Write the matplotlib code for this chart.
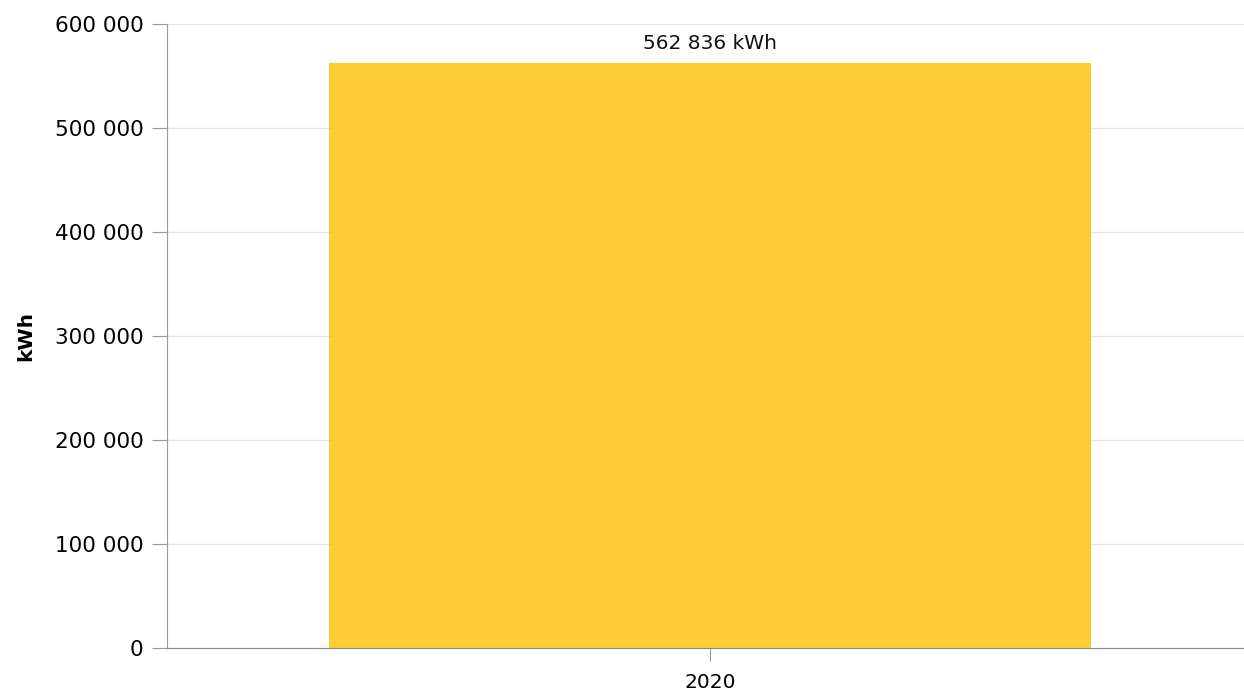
import matplotlib.pyplot as plt
from matplotlib.ticker import FuncFormatter

plt.rcParams['font.family'] = ['DejaVu Sans']

years = ['2020']
values = [562836]
unit = 'kWh'

fig = plt.figure(figsize=(12.44, 6.93), dpi=100)
ax = fig.add_axes([167/1244, 1-648/693, (1244-167)/1244, (648-24)/693])

xs = list(range(len(years)))
ax.bar(xs, values, width=1.0, color='#fdc823', alpha=0.92, zorder=2)
for x, v in zip(xs, values):
    ax.text(x, v + 9000, '{:,} {}'.format(v, unit).replace(',', ' '),
            ha='center', va='bottom', fontsize=14.5, color='#111111')

ax.set_xlim(-0.7126, 0.7008)
ax.set_ylim(0, 600000)
ax.set_yticks(range(0, 600001, 100000))
ax.yaxis.set_major_formatter(FuncFormatter(lambda v, p: '{:,}'.format(int(v)).replace(',', ' ')))
ax.set_xticks(xs)
ax.set_xticklabels(years)
ax.grid(axis='y', color='#e6e6e6', linewidth=1, zorder=0)
ax.set_axisbelow(True)
for s in ['top', 'right']:
    ax.spines[s].set_visible(False)
ax.spines['left'].set_color('#999999')
ax.spines['bottom'].set_color('#888888')
ax.tick_params(axis='y', length=11, color='#999999', labelsize=15.5, pad=6)
ax.tick_params(axis='x', length=9, color='#999999', labelsize=14.5, pad=9)
ax.set_ylabel('kWh', fontsize=14.5, fontweight='bold', labelpad=14)

fig.savefig('out.png', dpi=100)
